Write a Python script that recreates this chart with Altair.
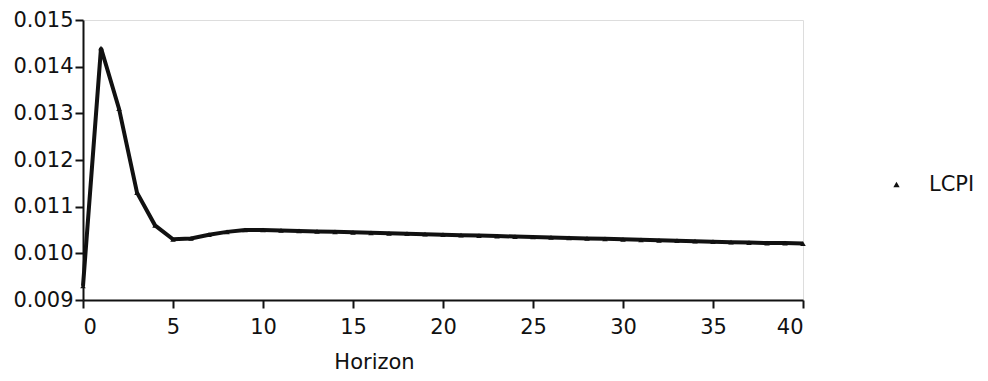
import altair as alt
import pandas as pd

horizon = list(range(0, 41))
lcpi = [
    0.00930, 0.01440, 0.01310, 0.01130, 0.01060, 0.01030, 0.01032, 0.01040,
    0.01046, 0.01050, 0.01050, 0.01049, 0.01048, 0.01047, 0.01046, 0.01045,
    0.01044, 0.01043, 0.01042, 0.01041, 0.01040, 0.01039, 0.01038, 0.01037,
    0.01036, 0.01035, 0.01034, 0.01033, 0.01032, 0.01031, 0.01030, 0.01029,
    0.01028, 0.01027, 0.01026, 0.01025, 0.01024, 0.01023, 0.01022, 0.01022,
    0.01021,
]
series = ["LCPI"] * len(horizon)
y_ticks = [0.009, 0.010, 0.011, 0.012, 0.013, 0.014, 0.015]
x_ticks = [0, 5, 10, 15, 20, 25, 30, 35, 40]

df = pd.DataFrame({"Horizon": horizon, "value": lcpi, "series": series})

FONT = "DejaVu Sans"

x_enc = alt.X(
    "Horizon:Q",
    scale=alt.Scale(domain=[0, 40], nice=False),
    axis=alt.Axis(
        values=x_ticks, title="Horizon", grid=False, tickSize=8,
        labelPadding=8, labelFontSize=21, titleFontSize=21,
        titleFontWeight="normal", labelFont=FONT, titleFont=FONT,
        titleX=291, titleY=68, titleBaseline="alphabetic", titleAlign="center",
        domainColor="#111", tickColor="#111", labelColor="#111", titleColor="#111",
        domainWidth=2, tickWidth=2,
    ),
)
y_enc = alt.Y(
    "value:Q",
    scale=alt.Scale(domain=[0.009, 0.015], nice=False, zero=False),
    axis=alt.Axis(
        values=y_ticks, format=".3f", title=None, grid=False, tickSize=8,
        labelPadding=2, labelFontSize=21, labelFont=FONT,
        domainColor="#111", tickColor="#111", labelColor="#111",
        domainWidth=2, tickWidth=2,
    ),
)

color = alt.Color(
    "series:N",
    scale=alt.Scale(domain=["LCPI"], range=["#111111"]),
    legend=alt.Legend(
        title=None, orient="none", legendX=803, legendY=154,
        labelFontSize=21, labelFont=FONT, labelColor="#111", labelOffset=22,
        symbolType="triangle-up", symbolSize=40, symbolStrokeWidth=0,
    ),
)

line = alt.Chart(df).mark_line(
    strokeWidth=4, color="#111111",
    point=alt.OverlayMarkDef(shape="triangle-up", size=30, filled=True, color="#111111"),
).encode(x=x_enc, y=y_enc, color=color)

chart = line.properties(
    width=720, height=280,
    autosize=alt.AutoSizeParams(type="none"),
    padding={"left": 75, "top": 12, "right": 177, "bottom": 73},
).configure_view(stroke=None).configure(background="white")

chart.save("out.html", embed_options={"renderer": "svg", "actions": False})
